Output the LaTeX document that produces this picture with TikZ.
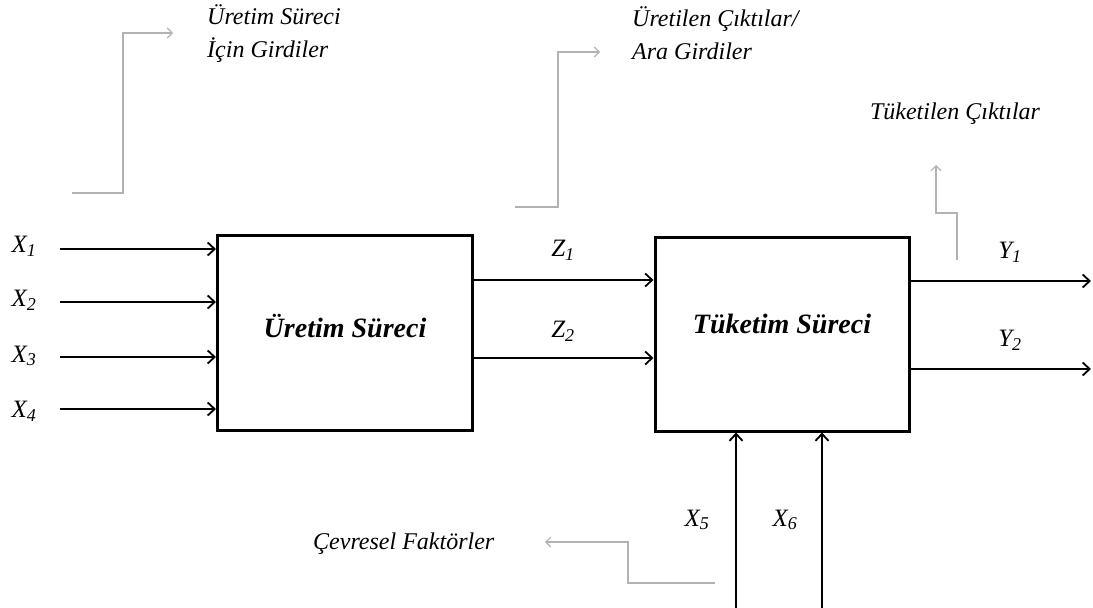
\documentclass[tikz,border=0pt]{standalone}
\usepackage{fontspec}
\setmainfont{Liberation Serif}
\usetikzlibrary{arrows.meta}
\tikzset{
  proc/.style={draw, line width=3pt, inner sep=0pt},
  flow/.style={line width=1.8pt, -{Straight Barb[length=7pt,width=13pt,line width=1.8pt]}},
  note/.style={draw=gray!60, line width=1.3pt, -{Straight Barb[length=5pt,width=10pt,line width=1.1pt]}},
  lbl/.style={font=\fontsize{25}{28}\selectfont\itshape, inner sep=0pt},
  ttl/.style={font=\fontsize{24}{33}\selectfont\itshape, inner sep=0pt, align=left},
  boxt/.style={font=\fontsize{28}{32}\selectfont\bfseries\itshape, inner sep=0pt}
}
\newcommand{\vx}[2]{#1\textsubscript{\fontsize{18}{18}\selectfont #2}}
\begin{document}
\begin{tikzpicture}[x=1pt,y=-1pt]
\useasboundingbox (0,0) rectangle (1093,608);
% boxes
\node[proc, minimum width=255pt, minimum height=195pt] (p1) at (345,333) {};
\node[proc, minimum width=254pt, minimum height=194pt] (p2) at (782,334) {};
\node[boxt] (t1) at (345,326) {Üretim Süreci};
\node[boxt] (t2) at (782,324) {Tüketim Süreci};
% input coordinates
\coordinate (a1) at (60,249);
\coordinate (a2) at (60,302);
\coordinate (a3) at (60,357);
\coordinate (a4) at (60,409);
\draw[flow] (a1) -- (a1 -| p1.west);
\draw[flow] (a2) -- (a2 -| p1.west);
\draw[flow] (a3) -- (a3 -| p1.west);
\draw[flow] (a4) -- (a4 -| p1.west);
\node[lbl] (lx1) at (24,246) {\vx{X}{1}};
\node[lbl] (lx2) at (24,300) {\vx{X}{2}};
\node[lbl] (lx3) at (24,356) {\vx{X}{3}};
\node[lbl] (lx4) at (24,411) {\vx{X}{4}};
% Z flows
\coordinate (z1) at (473,280);
\coordinate (z2) at (473,358);
\draw[flow] (p1.east |- z1) -- (p2.west |- z1);
\draw[flow] (p1.east |- z2) -- (p2.west |- z2);
\node[lbl] (lz1) at (563,250) {\vx{Z}{1}};
\node[lbl] (lz2) at (563,331) {\vx{Z}{2}};
% Y flows
\coordinate (y1) at (1091,281);
\coordinate (y2) at (1091,369);
\draw[flow] (p2.east |- y1) -- (y1);
\draw[flow] (p2.east |- y2) -- (y2);
\node[lbl] (ly1) at (1010,252) {\vx{Y}{1}};
\node[lbl] (ly2) at (1010,340) {\vx{Y}{2}};
% X5 X6
\coordinate (b5) at (736,608);
\coordinate (b6) at (822,608);
\draw[flow] (b5) -- (b5 |- p2.south);
\draw[flow] (b6) -- (b6 |- p2.south);
\node[lbl] (lx5) at (697,520) {\vx{X}{5}};
\node[lbl] (lx6) at (785,520) {\vx{X}{6}};
% grey notes
\coordinate (n1s) at (72,193);
\coordinate (n1e) at (173,33);
\draw[note] (n1s) -- (123,193) -- (123,33) -- (n1e);
\node[ttl, anchor=west] (tt1) at (207,34) {Üretim Süreci\\İçin Girdiler};
\coordinate (n2s) at (515,207);
\coordinate (n2e) at (600,52);
\draw[note] (n2s) -- (558,207) -- (558,52) -- (n2e);
\node[ttl, anchor=west] (tt2) at (632,33) {Üretilen Çıktılar/\\Ara Girdiler};
\coordinate (n3s) at (957,260);
\coordinate (n3e) at (936,165);
\draw[note] (n3s) -- (957,213) -- (936,213) -- (n3e);
\node[ttl, anchor=center] (tt3) at (955,114) {Tüketilen Çıktılar};
\coordinate (n4s) at (715,583);
\coordinate (n4e) at (545,542);
\draw[note] (n4s) -- (628,583) -- (628,542) -- (n4e);
\node[ttl, anchor=west] (tt4) at (313,544) {Çevresel Faktörler};
\end{tikzpicture}
\end{document}
